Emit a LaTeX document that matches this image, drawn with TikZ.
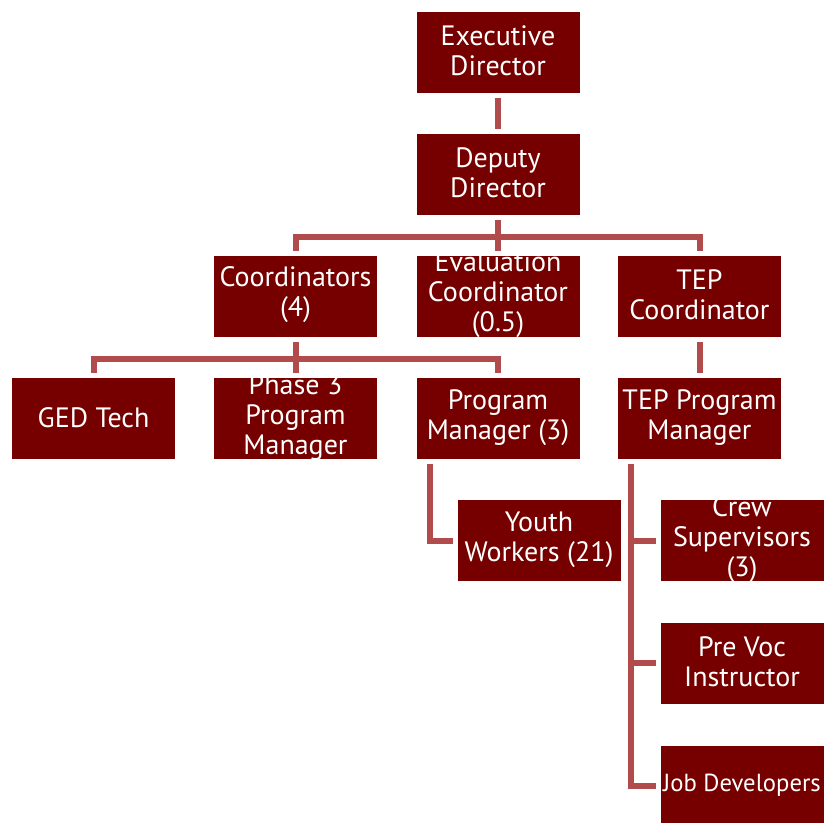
\documentclass[tikz,border=0pt]{standalone}
\usepackage{fontspec}
\setmainfont{PT Sans}
\usetikzlibrary{backgrounds}

\definecolor{boxred}{RGB}{118,0,0}
\definecolor{linkred}{RGB}{178,76,76}

\newcommand{\boxtext}[1]{\makebox[0pt]{\raisebox{-2.5pt}{\smash{\parbox[c]{220pt}{\centering\fontsize{21}{22.5}\selectfont #1}}}}}

\begin{document}
\begin{tikzpicture}[x=0.75pt, y=-0.75pt,
  unit/.style={fill=boxred, draw=white, line width=3.75pt, minimum width=126pt, minimum height=64.5pt, inner sep=0pt, text=white},
  link/.style={draw=white, double=linkred, double distance=4.5pt, line width=1.1pt}]

\useasboundingbox (0,0) rectangle (826,823);

\node[unit] (exec) at (498,52.5) {\boxtext{Executive\\Director}};
\node[unit] (deputy) at (498,174.5) {\boxtext{Deputy\\Director}};

\node[unit] (coord) at (295.5,296.5) {\boxtext{Coordinators\\(4)}};
\node[unit] (eval) at (498,296.5) {\boxtext{Evaluation\\Coordinator\\(0.5)}};
\node[unit] (tepc) at (699.5,296.5) {\boxtext{TEP\\Coordinator}};

\node[unit] (ged) at (93.5,419) {\boxtext{GED Tech}};
\node[unit] (phase) at (295.5,419) {\boxtext{Phase 3\\Program\\Manager}};
\node[unit] (pm) at (498,419) {\boxtext{Program\\Manager (3)}};
\node[unit] (teppm) at (699.5,419) {\boxtext{TEP Program\\Manager}};

\node[unit] (youth) at (539,541) {\boxtext{Youth\\Workers (21)}};
\node[unit] (crew) at (742,541) {\boxtext{Crew\\Supervisors\\(3)}};
\node[unit] (prevoc) at (742,663.5) {\boxtext{Pre Voc\\Instructor}};
\node[unit] (jobdev) at (742,786.5) {\boxtext{\fontsize{18.5}{22.5}\selectfont Job Developers}};

\coordinate (topbus) at (498,237);
\coordinate (midbus) at (295.5,359);

\begin{scope}[on background layer]
\draw[link] (exec) -- (deputy);
\draw[link] (deputy.south) -- (topbus) (coord.north) |- (topbus) -| (tepc.north) (eval.north) -- (topbus);
\draw[link] (coord.south) -- (midbus) (ged.north) |- (midbus) -| (pm.north) (phase.north) -- (midbus);
\draw[link] (tepc) -- (teppm);
\draw[link] ([xshift=13.5pt]pm.south west) |- (youth.west);
\draw[link] ([xshift=13.5pt]teppm.south west) coordinate (tepleg) |- (jobdev.west)
  (tepleg |- crew.west) -- (crew.west) (tepleg |- prevoc.west) -- (prevoc.west);
\end{scope}

\end{tikzpicture}
\end{document}
